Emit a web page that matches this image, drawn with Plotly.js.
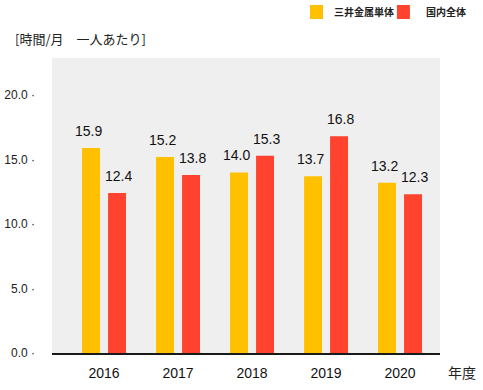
<!DOCTYPE html>
<html>
<head>
<meta charset="utf-8">
<script src="https://cdn.plot.ly/plotly-3.0.1.min.js"></script>
<style>html,body{margin:0;padding:0;background:#fff;}#chart{width:483px;height:390px;}</style>
</head>
<body>
<div id="chart"></div>
<script>
const years = ['2016', '2017', '2018', '2019', '2020'];
const mitsuiValues = [15.9, 15.2, 14.0, 13.7, 13.2];
const domesticValues = [12.4, 13.8, 15.3, 16.8, 12.3];
const seriesNames = ['三井金属単体', '国内全体'];
const yTickValues = [0, 5, 10, 15, 20];
const yAxisTitle = '[時間/月　一人あたり]';
const xAxisTitle = '年度';

const yellow = '#FFC000';
const red = '#FF432E';
const latin = '"Liberation Sans", Arial, sans-serif';
const cjk = '"Noto Sans CJK JP", "Liberation Sans", sans-serif';

const traces = [
  {type: 'bar', name: seriesNames[0], x: years, y: mitsuiValues, marker: {color: yellow}, hoverinfo: 'skip'},
  {type: 'bar', name: seriesNames[1], x: years, y: domesticValues, marker: {color: red}, hoverinfo: 'skip'}
];

const annotations = [];
years.forEach((yr, i) => {
  annotations.push({x: i, y: mitsuiValues[i], xref: 'x', yref: 'y', text: mitsuiValues[i].toFixed(1),
    showarrow: false, yanchor: 'bottom', yshift: 7, xshift: -16, font: {family: latin, size: 14, color: '#111'}});
  annotations.push({x: i, y: domesticValues[i], xref: 'x', yref: 'y', text: domesticValues[i].toFixed(1),
    showarrow: false, yanchor: 'bottom', yshift: 7, xshift: 14, font: {family: latin, size: 14, color: '#111'}});
});
annotations.push({xref: 'paper', yref: 'paper', x: -0.1, y: 1.067, xanchor: 'left', yanchor: 'middle',
  text: yAxisTitle, showarrow: false, font: {family: cjk, size: 13, color: '#222'}});
annotations.push({xref: 'paper', yref: 'paper', x: 1.015, y: -0.065, xanchor: 'left', yanchor: 'middle',
  text: xAxisTitle, showarrow: false, font: {family: cjk, size: 14, color: '#222'}});

// legend (drawn manually to match spacing)
const legendColors = [yellow, red];
const legendSquareX = [0.665, 0.889];
const legendTextX = [0.7216, 0.9588];
const shapes = [];
seriesNames.forEach((nm, k) => {
  shapes.push({type: 'rect', xref: 'paper', yref: 'paper', x0: legendSquareX[k], x1: legendSquareX[k] + 0.0335,
    y0: 1.1322, y1: 1.1797, fillcolor: legendColors[k], line: {width: 0}});
  annotations.push({xref: 'paper', yref: 'paper', x: legendTextX[k], y: 1.156, xanchor: 'left', yanchor: 'middle',
    text: nm, showarrow: false, font: {family: cjk, size: 10, color: '#222', weight: 'bold'}});
});

const layout = {
  width: 483, height: 390,
  margin: {l: 52, r: 43, t: 58, b: 37, pad: 0, autoexpand: false},
  paper_bgcolor: '#ffffff',
  plot_bgcolor: '#EFEFEF',
  barmode: 'group',
  bargap: 0.297,
  bargroupgap: 0.31,
  showlegend: false,
  xaxis: {type: 'category', range: [-0.703, 4.54], showgrid: false, zeroline: false,
    showline: true, linecolor: '#1a1a1a', linewidth: 2, ticks: '', ticklabelstandoff: 6,
    tickfont: {family: latin, size: 14, color: '#111'}, fixedrange: true},
  yaxis: {range: [0, 22.87], tickmode: 'array', tickvals: yTickValues,
    ticktext: yTickValues.map(v => v.toFixed(1) + ' ·'),
    showgrid: false, zeroline: false, showline: false, ticks: '', ticklabelstandoff: 16,
    tickfont: {family: latin, size: 12, color: '#222'}, fixedrange: true},
  shapes: shapes,
  annotations: annotations
};

Plotly.newPlot('chart', traces, layout, {displayModeBar: false, staticPlot: true});
</script>
</body>
</html>
